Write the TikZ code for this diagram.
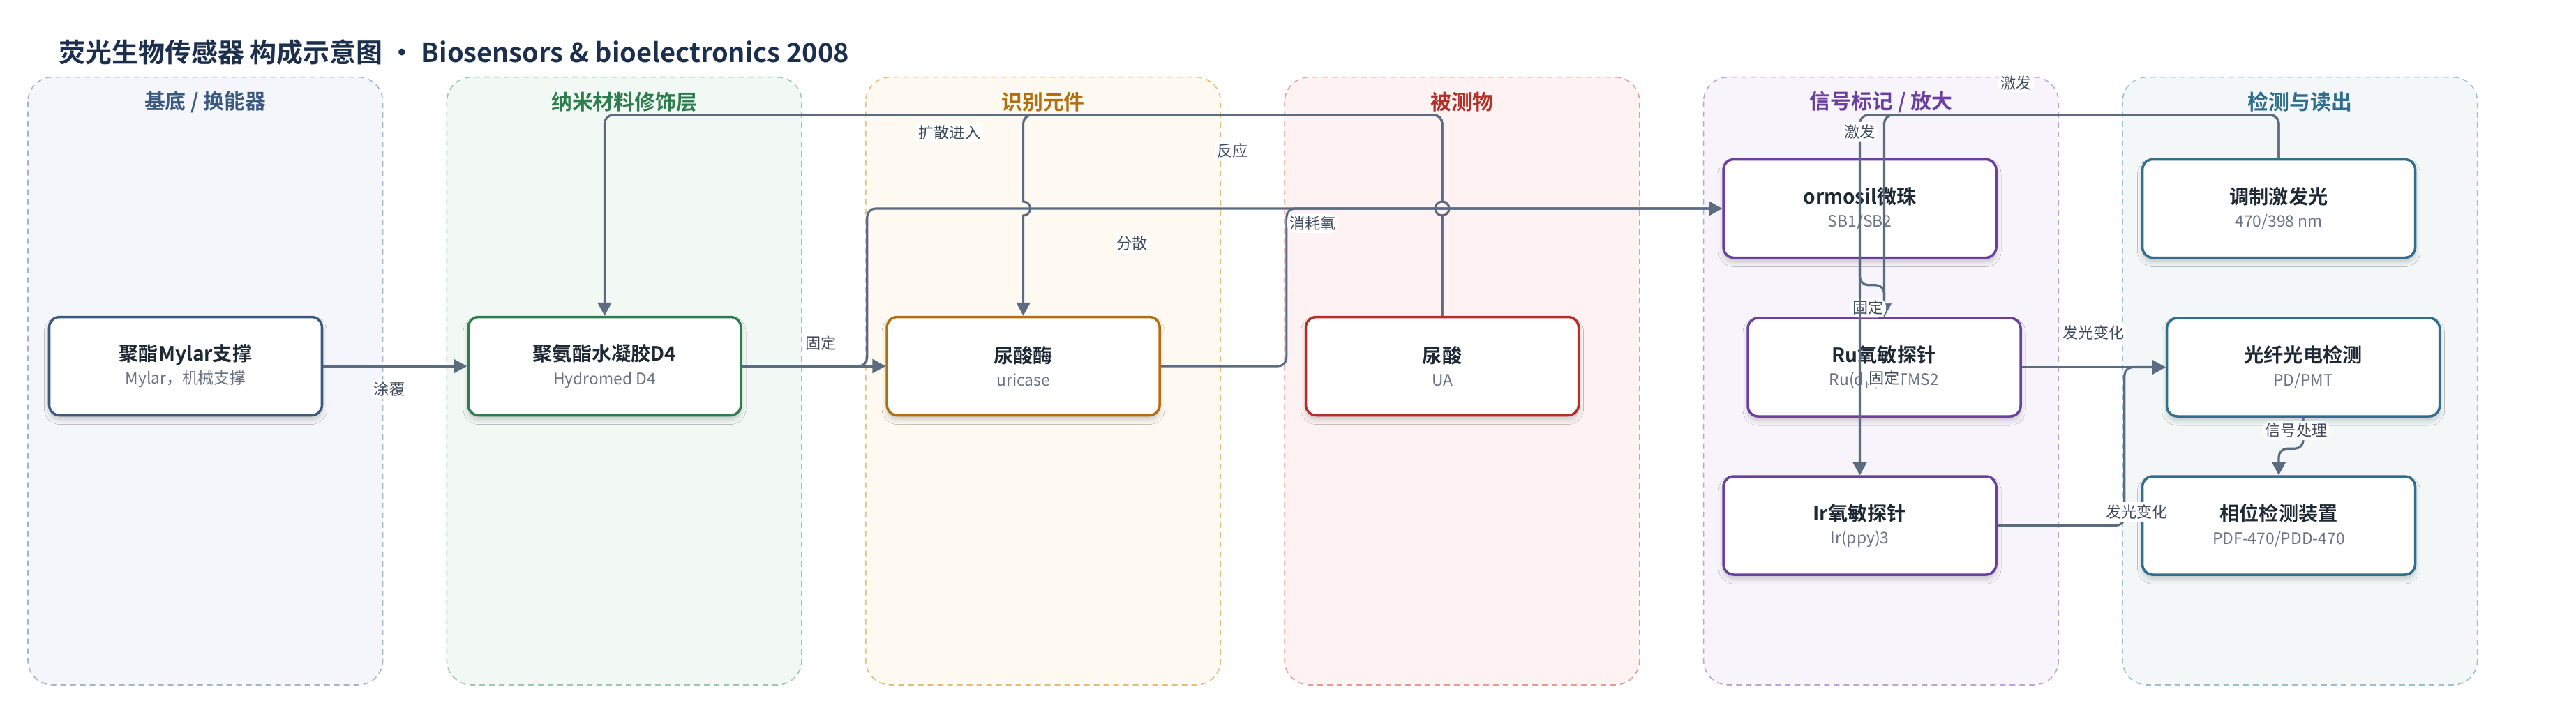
\documentclass[tikz,border=0pt]{standalone}
\usepackage{fontspec}
\setmainfont{Noto Sans CJK SC}[BoldFont={Noto Sans CJK SC Bold}]
\usetikzlibrary{arrows.meta, positioning, shadows.blur}

\definecolor{ink}{HTML}{1C2F4D}
\definecolor{linegray}{HTML}{5B6B80}
\definecolor{nodetext}{HTML}{1F2933}
\definecolor{subgray}{HTML}{6B7280}
\definecolor{lblgray}{HTML}{3F4A5A}
\definecolor{laneAfl}{HTML}{F5F6FB}\definecolor{laneAbd}{HTML}{A7B4C8}\definecolor{laneAtx}{HTML}{3C5A80}
\definecolor{laneBfl}{HTML}{F2F8F4}\definecolor{laneBbd}{HTML}{9CC8AC}\definecolor{laneBtx}{HTML}{2E7D4F}
\definecolor{laneCfl}{HTML}{FEF9F1}\definecolor{laneCbd}{HTML}{E2BC7A}\definecolor{laneCtx}{HTML}{B36F0E}
\definecolor{laneDfl}{HTML}{FEF3F2}\definecolor{laneDbd}{HTML}{E39C98}\definecolor{laneDtx}{HTML}{B42E2A}
\definecolor{laneEfl}{HTML}{F7F4FB}\definecolor{laneEbd}{HTML}{BBA5D8}\definecolor{laneEtx}{HTML}{6A3FA0}
\definecolor{laneFfl}{HTML}{F3F7F8}\definecolor{laneFbd}{HTML}{9EC0CC}\definecolor{laneFtx}{HTML}{2F6F8C}

\newcommand{\bt}[1]{{\bfseries\fontsize{8}{9.5}\selectfont\color{nodetext}#1}}
\newcommand{\st}[1]{{\fontsize{6.5}{9.5}\selectfont\color{subgray}#1}}

\begin{document}
\begin{tikzpicture}[
    blk/.style={draw, rectangle, rounded corners=0.15cm, fill=white, line width=1pt,
        minimum width=3.91cm, minimum height=1.41cm, align=center,
        font=\fontsize{8}{9.5}\selectfont,
        blur shadow={shadow xshift=0cm, shadow yshift=-0.06cm, shadow blur radius=0.07cm, shadow opacity=20}},
    flow/.style={draw=linegray, line width=0.9pt, rounded corners=0.12cm,
        -{Triangle[length=0.19cm, width=0.2cm]}},
    lbl/.style={fill=white, inner sep=1pt, text=lblgray, font=\fontsize{6.3}{7.5}\selectfont},
]
    \useasboundingbox (0,0) rectangle (36.92,-10.07);
    % 标题
    \node[anchor=west, text=ink, font=\bfseries\fontsize{10.8}{13}\selectfont] (title) at (0.72,-0.75)
        {荧光生物传感器 构成示意图 · Biosensors \& bioelectronics 2008};
    % 六个分区
    \foreach \i/\col/\ttl in {0/A/{基底 / 换能器}, 1/B/纳米材料修饰层, 2/C/识别元件,
                              3/D/被测物, 4/E/{信号标记 / 放大}, 5/F/检测与读出} {
        \draw[draw=lane\col bd, fill=lane\col fl, line width=0.45pt,
              dash pattern=on 0.08cm off 0.06cm, rounded corners=0.35cm]
            (0.40+\i*6.004,-1.107) rectangle ++(5.086,-8.713);
        \node[text=lane\col tx, font=\bfseries\fontsize{8.5}{10}\selectfont] (L\i)
            at (2.943+\i*6.004,-1.46) {\ttl};
    }
    \coordinate (top) at (0,-1.65);
    % 各组成部分
    \node[blk, draw=laneAtx] (Mylar) at (2.66,-5.25) {\bt{聚酯Mylar支撑}\\\st{Mylar，机械支撑}};
    \node[blk, draw=laneBtx] (Gel) at (8.665,-5.25) {\bt{聚氨酯水凝胶D4}\\\st{Hydromed D4}};
    \node[blk, draw=laneCtx] (Enz) at (14.666,-5.25) {\bt{尿酸酶}\\\st{uricase}};
    \node[blk, draw=laneDtx] (UA) at (20.67,-5.25) {\bt{尿酸}\\\st{UA}};
    \node[blk, draw=laneEtx] (Bead) at (26.655,-2.99) {\bt{ormosil微珠}\\\st{SB1/SB2}};
    \node[blk, draw=laneEtx] (Ru) at (27.005,-5.265) {\bt{Ru氧敏探针}\\\st{Ru(dpp)3TMS2}};
    \node[blk, draw=laneEtx] (Ir) at (26.655,-7.535) {\bt{Ir氧敏探针}\\\st{Ir(ppy)3}};
    \node[blk, draw=laneFtx] (Exc) at (32.66,-2.99) {\bt{调制激发光}\\\st{470/398 nm}};
    \node[blk, draw=laneFtx] (PD) at (33.01,-5.265) {\bt{光纤光电检测}\\\st{PD/PMT}};
    \node[blk, draw=laneFtx] (Ph) at (32.66,-7.535) {\bt{相位检测装置}\\\st{PDF-470/PDD-470}};
    % 连线
    \draw[flow] (Mylar.east) -- node[lbl, pos=0.46, below=0.18cm] {涂覆} (Gel.west);
    \draw[flow] (Gel.east) -- node[lbl, pos=0.55, above=0.18cm] {固定} (Enz.west);
    \draw[flow] (Gel.east) -- ++(1.79,0) |- node[lbl, pos=0.655, below=0.35cm] {分散} (Bead.west);
    \draw[flow] (Enz.east) -- ++(1.80,0) |- node[lbl, pos=0.53, below=0.06cm] {消耗氧} (Bead.west);
    % 跨线处用小弧
    \draw[flow, sharp corners] (UA.north) -- (20.67,-3.09) arc[start angle=-90, end angle=-270, radius=0.1]
        -- (20.67,-1.77) arc[start angle=0, end angle=90, radius=0.12]
        -- node[lbl, pos=0.59, below=0.1cm] {扩散进入} (8.785,-1.65)
        arc[start angle=90, end angle=180, radius=0.12] -- (Gel.north);
    \draw[flow, sharp corners] (UA.north) -- (20.67,-3.09) arc[start angle=-90, end angle=90, radius=0.1]
        -- (20.67,-1.77) arc[start angle=0, end angle=90, radius=0.12]
        -- node[lbl, below=0.36cm] {反应} (14.786,-1.65)
        arc[start angle=90, end angle=180, radius=0.12] -- (14.666,-2.89)
        arc[start angle=90, end angle=-90, radius=0.1] -- (Enz.north);
    \draw[flow] (Exc.north) -- (Exc.north |- top) -| node[lbl, pos=0.523] {激发} (Ir.north);
    \draw[flow] (Exc.north) -- (Exc.north |- top) -| node[lbl, pos=0.333, above=0.31cm] {激发} (Ru.north);
    \draw[flow] (Bead.south) -- ++(0,-0.375) -| node[lbl, pos=0.86, xshift=-0.23cm] {固定} (Ru.north);
    \draw[flow] (Bead.south) -- node[lbl, pos=0.55, xshift=0.35cm] {固定} (Ir.north);
    \draw[flow] (Ru.east) -- node[lbl, above=0.34cm] {发光变化} (PD.west);
    \draw[flow] (Ir.east) -- ++(1.82,0) |- node[lbl, pos=0.043, xshift=0.18cm] {发光变化} (PD.west);
    \draw[flow] (PD.south) -- node[lbl, pos=0.42, xshift=-0.1cm] {信号处理} ++(0,-0.445) -| (Ph.north);
\end{tikzpicture}
\end{document}
